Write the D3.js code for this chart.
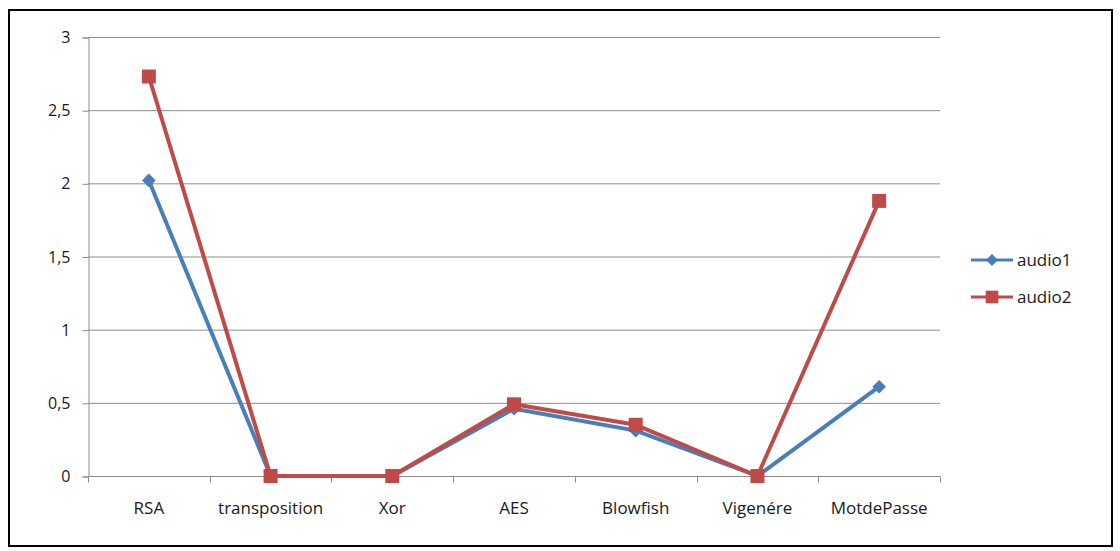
<!DOCTYPE html>
<html>
<head>
<meta charset="utf-8">
<script src="https://cdnjs.cloudflare.com/ajax/libs/d3/7.8.5/d3.min.js"></script>
<style>
  body { margin: 0; background: #fff; }
  svg text { font-family: "Open Sans", "Noto Sans", sans-serif; fill: #1a1a1a; }
</style>
</head>
<body>
<svg id="chart" width="1120" height="551"></svg>
<script>
"use strict";

var categories = ['RSA', 'transposition', 'Xor', 'AES', 'Blowfish', 'Vigenére', 'MotdePasse'];
var audio1 = [2.02, 0, 0, 0.46, 0.31, 0, 0.61];
var audio2 = [2.73, 0, 0, 0.49, 0.35, 0, 1.88];
var seriesNames = ['audio1', 'audio2'];
var yTicks = [0, 0.5, 1, 1.5, 2, 2.5, 3];

var svg = d3.select('#chart');

// outer frame
svg.append('rect')
  .attr('x', 9).attr('y', 10).attr('width', 1103).attr('height', 536)
  .attr('fill', 'none').attr('stroke', '#000').attr('stroke-width', 2);

var plotLeft = 88, plotRight = 940, plotTop = 37, plotBottom = 476;

var x = d3.scaleBand().domain(categories).range([plotLeft, plotRight]);
var y = d3.scaleLinear().domain([0, 3]).range([plotBottom, plotTop]);

var fmt = function (d) { return String(d).replace('.', ','); };

// gridlines
svg.append('g').selectAll('line').data(yTicks.slice(1)).join('line')
  .attr('x1', plotLeft).attr('x2', plotRight)
  .attr('y1', function (d) { return y(d) + 0.5; })
  .attr('y2', function (d) { return y(d) + 0.5; })
  .attr('stroke', '#8c8c8c').attr('stroke-width', 1);

// y axis
var yAxis = svg.append('g').attr('transform', 'translate(' + (plotLeft + 0.5) + ',0.5)')
  .call(d3.axisLeft(y).tickValues(yTicks).tickFormat(fmt).tickSize(6).tickPadding(12));
yAxis.select('.domain').attr('stroke', '#8c8c8c');
yAxis.selectAll('.tick line').attr('stroke', '#8c8c8c');
yAxis.selectAll('text').attr('font-size', 16).attr('fill', '#1a1a1a');

// x axis
var xAxis = svg.append('g').attr('transform', 'translate(0,' + (plotBottom + 0.5) + ')')
  .call(d3.axisBottom(x).tickSize(0).tickPadding(25));
xAxis.select('.domain').attr('stroke', '#8c8c8c').attr('d', 'M' + plotLeft + ',0H' + plotRight);
xAxis.selectAll('text').attr('font-size', 17).attr('fill', '#1a1a1a');
// category separators
xAxis.append('g').selectAll('line').data(d3.range(categories.length + 1)).join('line')
  .attr('x1', function (i) { return Math.round(plotLeft + i * x.bandwidth()) + 0.5; })
  .attr('x2', function (i) { return Math.round(plotLeft + i * x.bandwidth()) + 0.5; })
  .attr('y1', 0).attr('y2', 6)
  .attr('stroke', '#8c8c8c');

var cx = function (d, i) { return x(categories[i]) + x.bandwidth() / 2; };
var line = d3.line().x(cx).y(function (d) { return y(d); });

var colors = ['#4a7ebb', '#be4b48'];
var series = [audio1, audio2];
var diamond = d3.symbol().type(d3.symbolDiamond2).size(120);
var square = d3.symbol().type(d3.symbolSquare).size(196);

series.forEach(function (vals, s) {
  var g = svg.append('g');
  g.append('path').attr('d', line(vals))
    .attr('fill', 'none').attr('stroke', colors[s]).attr('stroke-width', 4)
    .attr('stroke-linejoin', 'round');
  g.selectAll('path.m').data(vals).join('path').attr('class', 'm')
    .attr('transform', function (d, i) { return 'translate(' + cx(d, i) + ',' + y(d) + ')'; })
    .attr('d', s === 0 ? diamond : square)
    .attr('fill', colors[s]);
});

// legend
var legend = svg.append('g');
seriesNames.forEach(function (name, s) {
  var ly = 260 + s * 37;
  legend.append('line').attr('x1', 971).attr('x2', 1013).attr('y1', ly).attr('y2', ly)
    .attr('stroke', colors[s]).attr('stroke-width', 3);
  legend.append('path').attr('transform', 'translate(992,' + ly + ')')
    .attr('d', s === 0 ? d3.symbol().type(d3.symbolDiamond2).size(90) : d3.symbol().type(d3.symbolSquare).size(160))
    .attr('fill', colors[s]);
  legend.append('text').attr('x', 1017).attr('y', ly + 6).attr('font-size', 17).text(name);
});
</script>
</body>
</html>
